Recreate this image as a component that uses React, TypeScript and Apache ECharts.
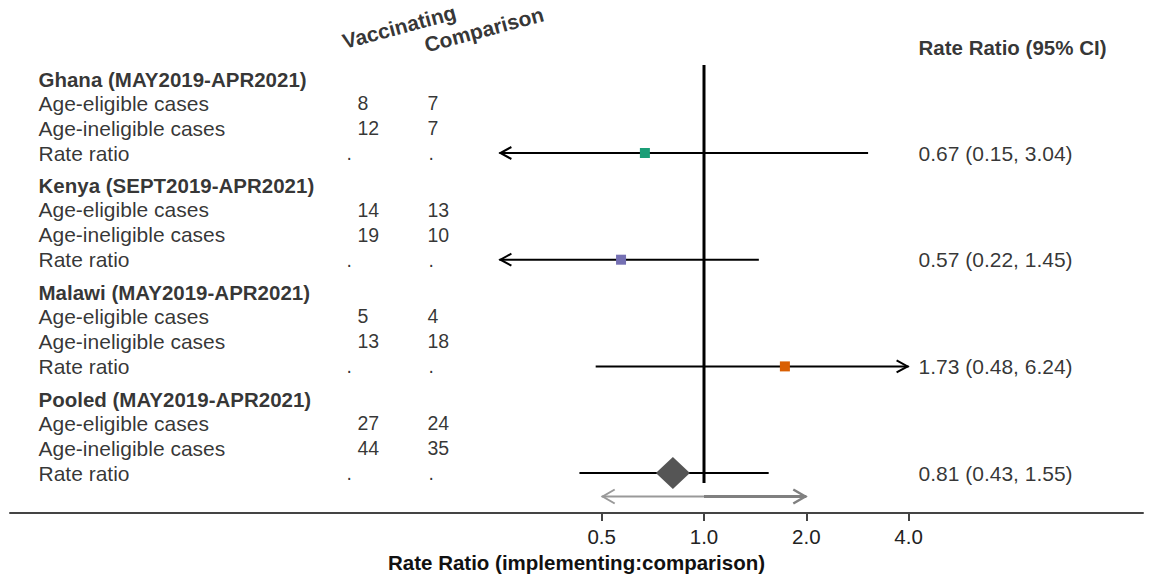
import React, { useEffect, useRef } from "react";
import * as echarts from "echarts";

const groups = [
  "Ghana (MAY2019-APR2021)",
  "Kenya (SEPT2019-APR2021)",
  "Malawi (MAY2019-APR2021)",
  "Pooled (MAY2019-APR2021)",
];
const rowLabels = ["Age-eligible cases", "Age-ineligible cases", "Rate ratio"];
const vaccEligible = [8, 14, 5, 27];
const vaccIneligible = [12, 19, 13, 44];
const compEligible = [7, 13, 4, 24];
const compIneligible = [7, 10, 18, 35];
const rateRatio = [0.67, 0.57, 1.73, 0.81];
const ciLow = [0.15, 0.22, 0.48, 0.43];
const ciHigh = [3.04, 1.45, 6.24, 1.55];
const markerColors = ["#1b9e77", "#7570b3", "#d95f02", "#555555"];
const markerShapes = ["square", "square", "square", "diamond"];
const tickValues = [0.5, 1, 2, 4];
const displayMin = 0.25;
const displayMax = 4;
const arrowRange = [0.5, 2];
const columnHeaders = ["Vaccinating", "Comparison"];
const ciHeader = "Rate Ratio (95% CI)";
const axisTitle = "Rate Ratio (implementing:comparison)";

// layout (log2 units on x, row units on y)
const FONT = "Liberation Sans";
const PX = 102.3;
const ZERO_PX = 704;
const toX = (px: number) => (px - ZERO_PX) / PX;
const groupStart = 3.16;
const groupStep = 4.268;
const rowOffsets = [0, 0.96, 1.96, 2.96];
const rowY = (g: number, r: number) => groupStart + g * groupStep + rowOffsets[r];

export default function App() {
  const ref = useRef<HTMLDivElement>(null);
  useEffect(() => {
    if (!ref.current) return;
    const chart = echarts.init(ref.current, undefined, { renderer: "svg" });
    const L2 = Math.log2;

    const labelData: any[] = [];
    const vaccData: any[] = [];
    const compData: any[] = [];
    const dotData: any[] = [];
    const ciTextData: any[] = [];
    groups.forEach((g, gi) => {
      labelData.push({ value: [toX(38), rowY(gi, 0)], name: g, label: { fontWeight: "bold", fontSize: 20.5 } });
      rowLabels.forEach((r, ri) => {
        labelData.push({ value: [toX(38), rowY(gi, ri + 1)], name: r });
      });
      vaccData.push({ value: [toX(357), rowY(gi, 1)], name: String(vaccEligible[gi]) });
      vaccData.push({ value: [toX(357), rowY(gi, 2)], name: String(vaccIneligible[gi]) });
      compData.push({ value: [toX(427), rowY(gi, 1)], name: String(compEligible[gi]) });
      compData.push({ value: [toX(427), rowY(gi, 2)], name: String(compIneligible[gi]) });
      dotData.push({ value: [toX(346), rowY(gi, 3)], name: "." });
      dotData.push({ value: [toX(428), rowY(gi, 3)], name: "." });
      ciTextData.push({
        value: [toX(918), rowY(gi, 3)],
        name: `${rateRatio[gi].toFixed(2)} (${ciLow[gi].toFixed(2)}, ${ciHigh[gi].toFixed(2)})`,
      });
    });
    ciTextData.push({ value: [toX(918), 1.88], name: ciHeader, label: { fontWeight: "bold", fontSize: 20.5 } });

    const textSeries = (data: any[], fontSize: number, extra: any = {}) => ({
      type: "scatter",
      data,
      symbolSize: 1,
      itemStyle: { color: "rgba(0,0,0,0)" },
      silent: true,
      label: {
        show: true,
        position: "right",
        distance: 0,
        formatter: (p: any) => p.name,
        color: "#000",
        fontFamily: FONT,
        fontSize,
        align: "left",
        verticalAlign: "middle",
        ...extra,
      },
    });

    const headerData = [
      { value: [toX(346), 2.1], name: columnHeaders[0] },
      { value: [toX(428), 2.24], name: columnHeaders[1] },
    ];

    const ciData = rateRatio.map((v, i) => [L2(v), rowY(i, 3), L2(ciLow[i]), L2(ciHigh[i]), i]);
    const clipLo = L2(displayMin);
    const clipHi = L2(displayMax);

    chart.setOption({
      animation: false,
      grid: { left: 10, right: 13, top: 0, bottom: 64, containLabel: false, outerBoundsMode: "none" },
      xAxis: {
        type: "value",
        position: "bottom",
        min: toX(10),
        max: toX(1143),
        splitLine: { show: false },
        axisLine: { show: true, onZero: false, lineStyle: { color: "#444", width: 2 } },
        axisTick: {
          show: true,
          customValues: tickValues.map(L2),
          length: 8,
          lineStyle: { color: "#444", width: 2 },
        },
        axisLabel: {
          customValues: tickValues.map(L2),
          formatter: (v: number) => Math.pow(2, v).toFixed(1),
          fontFamily: FONT,
          fontSize: 20.5,
          color: "#222",
          margin: 13,
        },
        name: axisTitle,
        nameLocation: "middle",
        nameGap: 37,
        nameTextStyle: { fontFamily: FONT, fontSize: 20.5, fontWeight: "bold", color: "#111" },
      },
      yAxis: { type: "value", min: 0, max: 20.52, inverse: true, show: false },
      series: [
        {
          type: "line",
          data: [[0, 2.6], [0, 19.32]],
          symbol: "none",
          lineStyle: { color: "#000", width: 3 },
          silent: true,
        },
        {
          type: "custom",
          data: [[L2(arrowRange[0]), 19.86, L2(arrowRange[1])]],
          encode: { x: [0, 2], y: 1 },
          silent: true,
          renderItem: (params: any, api: any) => {
            const y = api.value(1);
            const a = api.coord([api.value(0), y]);
            const m = api.coord([0, y]);
            const b = api.coord([api.value(2), y]);
            const c1 = "#999999";
            const c2 = "#808080";
            return {
              type: "group",
              children: [
                { type: "line", shape: { x1: a[0], y1: a[1], x2: m[0], y2: m[1] }, style: { stroke: c1, lineWidth: 2 } },
                { type: "line", shape: { x1: m[0], y1: m[1], x2: b[0], y2: b[1] }, style: { stroke: c2, lineWidth: 3 } },
                { type: "polyline", shape: { points: [[a[0] + 13, a[1] - 7], [a[0] + 1, a[1]], [a[0] + 13, a[1] + 7]] }, style: { stroke: c1, lineWidth: 2, fill: null } },
                { type: "polyline", shape: { points: [[b[0] - 13, b[1] - 7], [b[0] - 1, b[1]], [b[0] - 13, b[1] + 7]] }, style: { stroke: c2, lineWidth: 2.5, fill: null } },
              ],
            };
          },
        },
        {
          type: "custom",
          data: ciData,
          encode: { x: [0, 2, 3], y: 1 },
          silent: true,
          z: 3,
          renderItem: (params: any, api: any) => {
            const est = api.value(0);
            const y = api.value(1);
            const lo = api.value(2);
            const hi = api.value(3);
            const idx = api.value(4);
            const p0 = api.coord([Math.max(lo, clipLo), y]);
            const p1 = api.coord([Math.min(hi, clipHi), y]);
            const pe = api.coord([est, y]);
            const children: any[] = [
              { type: "line", shape: { x1: p0[0], y1: p0[1], x2: p1[0], y2: p1[1] }, style: { stroke: "#000", lineWidth: 2 } },
            ];
            if (lo < clipLo) {
              children.push({ type: "polyline", shape: { points: [[p0[0] + 12, p0[1] - 6], [p0[0] + 1, p0[1]], [p0[0] + 12, p0[1] + 6]] }, style: { stroke: "#000", lineWidth: 2, fill: null } });
            }
            if (hi > clipHi) {
              children.push({ type: "polyline", shape: { points: [[p1[0] - 12, p1[1] - 6], [p1[0] - 1, p1[1]], [p1[0] - 12, p1[1] + 6]] }, style: { stroke: "#000", lineWidth: 2, fill: null } });
            }
            const color = markerColors[idx];
            if (markerShapes[idx] === "diamond") {
              children.push({ type: "polygon", shape: { points: [[pe[0] - 17, pe[1]], [pe[0], pe[1] - 16], [pe[0] + 17, pe[1]], [pe[0], pe[1] + 16]] }, style: { fill: color } });
            } else {
              children.push({ type: "rect", shape: { x: pe[0] - 5, y: pe[1] - 5, width: 10, height: 10 }, style: { fill: color } });
            }
            return { type: "group", children };
          },
        },
        textSeries(labelData, 21),
        textSeries(vaccData, 19.5),
        textSeries(compData, 19.5),
        textSeries(dotData, 19.5),
        textSeries(ciTextData, 21),
        textSeries(headerData, 21, { fontWeight: "bold", rotate: 15, verticalAlign: "bottom", position: [0, 0] }),
      ],
    });
    return () => chart.dispose();
  }, []);
  return <div ref={ref} style={{ position: "absolute", left: 0, top: 0, width: 1156, height: 577 }} />;
}
